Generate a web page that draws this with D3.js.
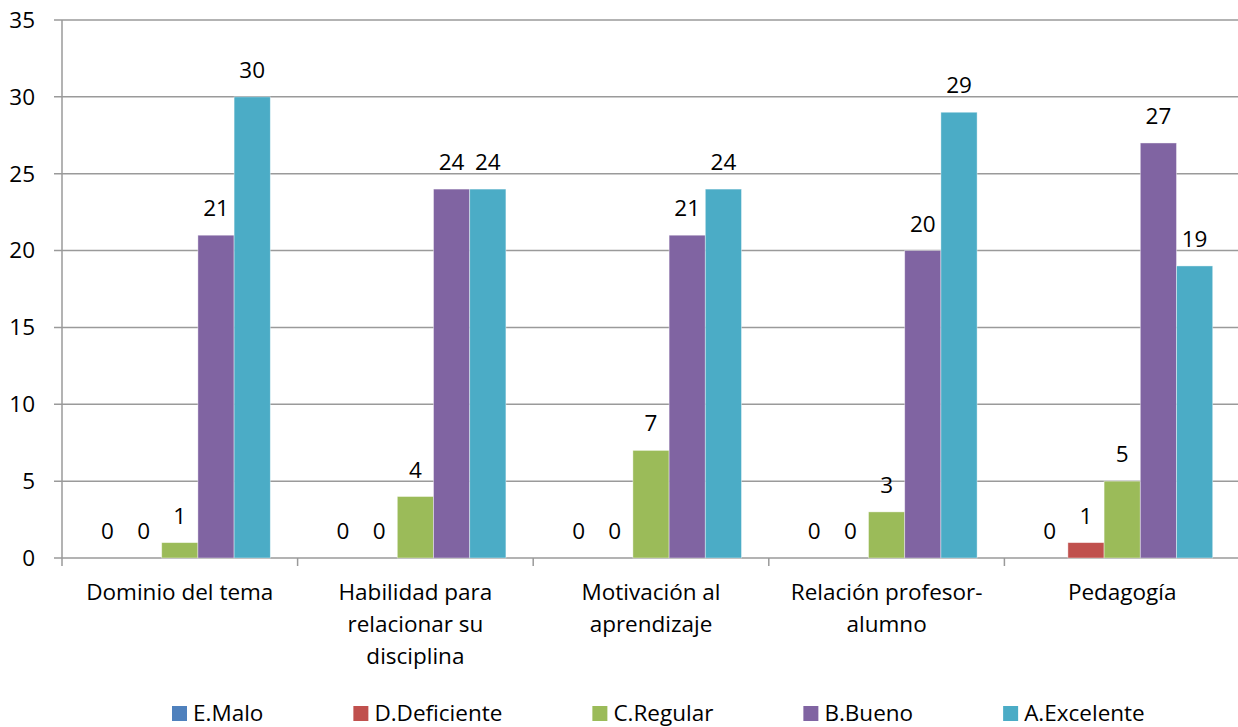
<!DOCTYPE html>
<html>
<head>
<meta charset="utf-8">
<script src="https://cdn.jsdelivr.net/npm/d3@7"></script>
<style>
  body { margin: 0; background: #fff; }
  text { font-family: "Open Sans", "Noto Sans", sans-serif; fill: #000; }
</style>
</head>
<body>
<div id="container"></div>
<script>
let categories = ['Dominio del tema', 'Habilidad para relacionar su disciplina', 'Motivación al aprendizaje', 'Relación profesor-alumno', 'Pedagogía']
let categoryLines = [
  ['Dominio del tema'],
  ['Habilidad para', 'relacionar su', 'disciplina'],
  ['Motivación al', 'aprendizaje'],
  ['Relación profesor-', 'alumno'],
  ['Pedagogía']
]
let series = ['E.Malo', 'D.Deficiente', 'C.Regular', 'B.Bueno', 'A.Excelente']
let malo = [0, 0, 0, 0, 0]
let deficiente = [0, 0, 0, 0, 1]
let regular = [1, 4, 7, 3, 5]
let bueno = [21, 24, 21, 20, 27]
let excelente = [30, 24, 24, 29, 19]
let yTicks = [0, 5, 10, 15, 20, 25, 30, 35]
let colors = ['#4F81BD', '#C0504D', '#9BBB59', '#8064A2', '#4BACC6']

let values = [malo, deficiente, regular, bueno, excelente]
// filas por categoría
let rows = categories.map(function (c, i) {
  return series.map(function (s, j) {
    return { key: s, value: values[j][i] }
  })
})

let fs = 22.5

let width = 1238,
  height = 727,
  padding = { top: 20, left: 62, bottom: 169, right: -2 },
  plot_w = width - padding.left - padding.right,
  plot_h = height - padding.top - padding.bottom

let svg = d3.select('#container')
  .append('svg')
  .attr('width', width)
  .attr('height', height)

let g = svg.append('g')
  .attr('transform', 'translate(' + padding.left + ',' + padding.top + ')')

let scale_y = d3.scaleLinear()
  .domain([0, 35])
  .range([plot_h, 0])

let scale_x = d3.scaleBand()
  .domain(categories)
  .range([0, plot_w])

let scale_s = d3.scaleBand()
  .domain(series)
  .range([0, scale_x.bandwidth()])
  .paddingOuter(0.754)

// rejilla
g.append('g')
  .selectAll('line')
  .data(yTicks).enter().append('line')
  .attr('x1', -8)
  .attr('x2', plot_w)
  .attr('y1', d => scale_y(d))
  .attr('y2', d => scale_y(d))
  .attr('stroke', '#9a9a9a')
  .attr('stroke-width', 1.5)

g.append('g')
  .selectAll('text')
  .data(yTicks).enter().append('text')
  .attr('x', -27)
  .attr('y', d => scale_y(d))
  .attr('dy', '0.35em')
  .attr('text-anchor', 'end')
  .attr('font-size', fs)
  .text(d => d)

// barras
let groups = g.selectAll('.cat')
  .data(rows).enter().append('g')
  .attr('class', 'cat')
  .attr('transform', (d, i) => 'translate(' + scale_x(categories[i]) + ',0)')

groups.selectAll('rect')
  .data(d => d).enter().append('rect')
  .attr('x', d => scale_s(d.key))
  .attr('width', scale_s.bandwidth())
  .attr('y', d => scale_y(d.value))
  .attr('height', d => plot_h - scale_y(d.value))
  .attr('fill', (d, j) => colors[j])
  .attr('stroke', 'rgba(255,255,255,0.5)')
  .attr('stroke-width', 0.8)

groups.selectAll('text.val')
  .data(d => d).enter().append('text')
  .attr('class', 'val')
  .attr('x', d => scale_s(d.key) + scale_s.bandwidth() / 2)
  .attr('y', d => scale_y(d.value) - 19)
  .attr('text-anchor', 'middle')
  .attr('font-size', fs)
  .text(d => d.value)

// eje x
g.append('line')
  .attr('x1', 0).attr('x2', 0)
  .attr('y1', 0).attr('y2', plot_h)
  .attr('stroke', '#9a9a9a')
  .attr('stroke-width', 1.5)

g.append('g')
  .selectAll('line')
  .data(d3.range(categories.length + 1)).enter().append('line')
  .attr('x1', i => i * scale_x.step())
  .attr('x2', i => i * scale_x.step())
  .attr('y1', plot_h)
  .attr('y2', plot_h + 8)
  .attr('stroke', '#9a9a9a')
  .attr('stroke-width', 1.5)

let labels = g.append('g')
  .selectAll('text')
  .data(categoryLines).enter().append('text')
  .attr('text-anchor', 'middle')
  .attr('font-size', fs)
  .attr('transform', (d, i) => 'translate(' + (scale_x(categories[i]) + scale_x.bandwidth() / 2) + ',' + (plot_h + 42) + ')')

labels.selectAll('tspan')
  .data(d => d).enter().append('tspan')
  .attr('x', 0)
  .attr('y', (d, k) => k * 32)
  .text(d => d)

// leyenda
let legend = svg.append('g')
  .attr('transform', 'translate(0,713)')

let lx = 172
series.forEach(function (s, j) {
  legend.append('rect')
    .attr('x', lx)
    .attr('y', -7)
    .attr('width', 15)
    .attr('height', 15)
    .attr('fill', colors[j])
  let t = legend.append('text')
    .attr('x', lx + 21)
    .attr('y', 0)
    .attr('dy', '0.35em')
    .attr('font-size', fs)
    .text(s)
  lx += 21 + t.node().getComputedTextLength() + 90
})
</script>
</body>
</html>
